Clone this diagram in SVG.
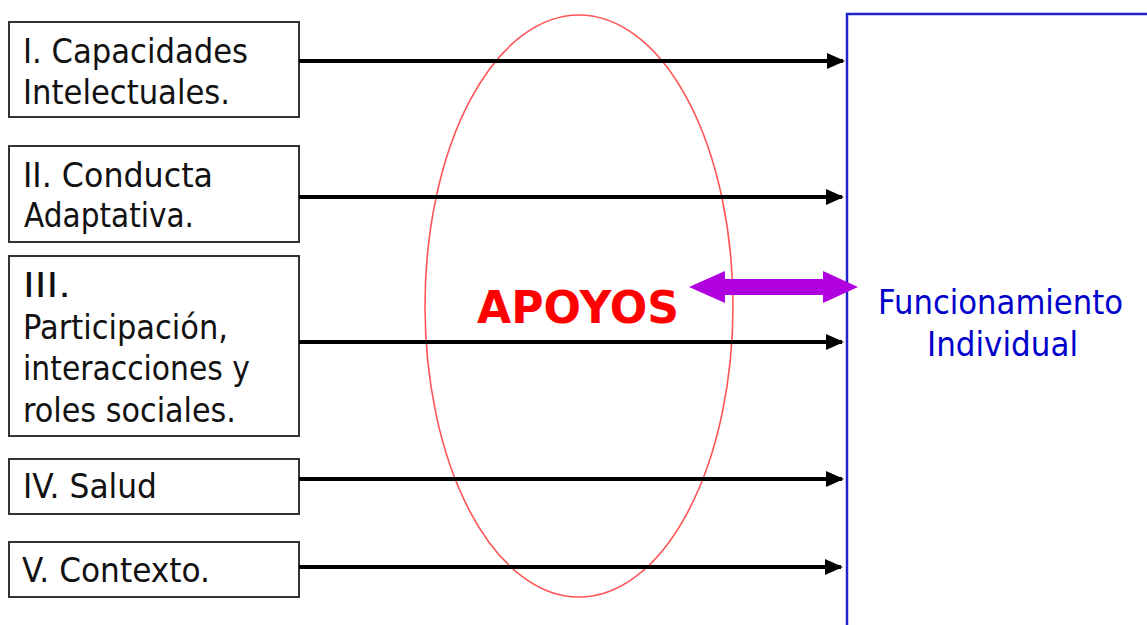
<svg xmlns="http://www.w3.org/2000/svg" width="1147" height="625" viewBox="0 0 1147 625">
<defs>
<marker id="ah" markerWidth="4.5" markerHeight="4" refX="4" refY="2" orient="auto" markerUnits="strokeWidth" viewBox="0 0 4.5 4">
<path d="M0,0 L4.5,2 L0,4 Z" fill="#000"/>
</marker>
<style>
.box{fill:#fff;stroke:#333;stroke-width:2}
.t{font-family:"DejaVu Sans","Liberation Sans",sans-serif;font-size:33px;fill:#111}
.conn{stroke:#000;stroke-width:4;fill:none;marker-end:url(#ah)}
.b{font-family:"DejaVu Sans","Liberation Sans",sans-serif;font-size:33px;fill:#0000cc}
</style>
</defs>
<rect width="1147" height="625" fill="#fff"/>
<g id="ellipse">
<ellipse cx="579" cy="306" rx="154" ry="291" fill="none" stroke="#ff5555" stroke-width="1.6"/>
</g>
<g id="node-1">
<rect class="box" x="9" y="22" width="290" height="95"/>
<text class="t" x="23" y="63" textLength="225" lengthAdjust="spacingAndGlyphs">I. Capacidades</text>
<text class="t" x="23" y="104" textLength="207" lengthAdjust="spacingAndGlyphs">Intelectuales.</text>
</g>
<g id="node-2">
<rect class="box" x="9" y="146" width="290" height="96"/>
<text class="t" x="23" y="187" textLength="190" lengthAdjust="spacingAndGlyphs">II. Conducta</text>
<text class="t" x="24" y="227" textLength="170" lengthAdjust="spacingAndGlyphs">Adaptativa.</text>
</g>
<g id="node-3">
<rect class="box" x="9" y="256" width="290" height="180"/>
<text class="t" x="23" y="297" textLength="48" lengthAdjust="spacingAndGlyphs">III.</text>
<text class="t" x="23" y="339" textLength="205" lengthAdjust="spacingAndGlyphs">Participación,</text>
<text class="t" x="23" y="380" textLength="227" lengthAdjust="spacingAndGlyphs">interacciones y</text>
<text class="t" x="23" y="422" textLength="213" lengthAdjust="spacingAndGlyphs">roles sociales.</text>
</g>
<g id="node-4">
<rect class="box" x="9" y="459" width="290" height="55"/>
<text class="t" x="23" y="498" textLength="134" lengthAdjust="spacingAndGlyphs">IV. Salud</text>
</g>
<g id="node-5">
<rect class="box" x="9" y="542" width="290" height="55"/>
<text class="t" x="22" y="582" textLength="188" lengthAdjust="spacingAndGlyphs">V. Contexto.</text>
</g>
<g id="apoyos">
<text x="477" y="323" font-family="DejaVu Sans,'Liberation Sans',sans-serif" font-weight="bold" font-size="45" fill="#ff0000" textLength="202" lengthAdjust="spacingAndGlyphs">APOYOS</text>
</g>
<g id="funcionamiento">
<path d="M847,625 L847,14 L1147,14" fill="none" stroke="#2222cc" stroke-width="2.5"/>
<text class="b" x="878" y="314" textLength="245" lengthAdjust="spacingAndGlyphs">Funcionamiento</text>
<text class="b" x="927" y="356" textLength="151" lengthAdjust="spacingAndGlyphs">Individual</text>
</g>
<g id="connectors">
<line class="conn" x1="299" y1="61" x2="843" y2="61"/>
<line class="conn" x1="299" y1="197" x2="842" y2="197"/>
<line class="conn" x1="299" y1="342" x2="842" y2="342"/>
<line class="conn" x1="299" y1="479" x2="842" y2="479"/>
<line class="conn" x1="299" y1="567" x2="841" y2="567"/>
<polygon points="689,287 725,271 725,279 823,279 823,271 858,287 823,303 823,295 725,295 725,303" fill="#b000e0"/>
</g>
</svg>
